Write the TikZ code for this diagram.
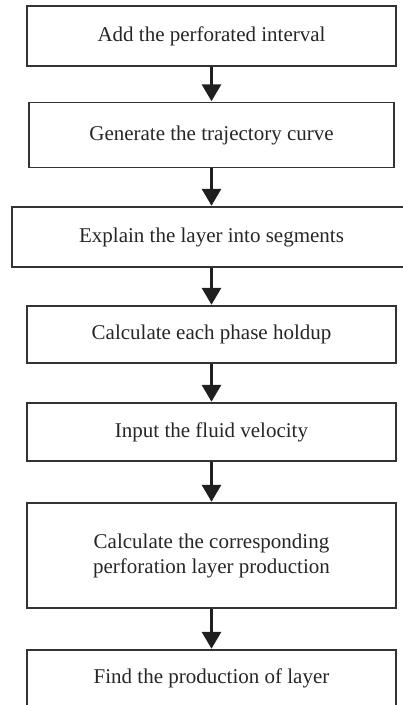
\documentclass[tikz,border=0pt]{standalone}
\usepackage{fontspec}
\setmainfont{Liberation Serif}
\usetikzlibrary{arrows.meta}

\tikzset{
  stepbox/.style={draw=black!80, line width=1.3pt, rectangle, inner sep=0pt,
    font=\fontsize{21}{25}\selectfont, align=center, text=black!85},
  flow/.style={draw=black!88, line width=3.2pt,
    -{Triangle[width=19pt,length=17pt]}, shorten >=0.6pt}
}

\begin{document}
\begin{tikzpicture}[x=1pt,y=-1pt]
  \useasboundingbox (0,0) rectangle (403,705);

  % process steps, top to bottom
  \node[stepbox, minimum width=369pt, minimum height=60pt] (s1) at (211.5,36) {Add the perforated interval};
  \node[stepbox, minimum width=365pt, minimum height=65pt] (s2) at (211.5,135) {Generate the trajectory curve};
  \node[stepbox, minimum width=399pt, minimum height=60pt] (s3) at (211.5,237) {Explain the layer into segments};
  \node[stepbox, minimum width=369pt, minimum height=57pt] (s4) at (211.5,334.5) {Calculate each phase holdup};
  \node[stepbox, minimum width=369pt, minimum height=58pt] (s5) at (211.5,432) {Input the fluid velocity};
  \node[stepbox, minimum width=369pt, minimum height=105pt] (s6) at (211.5,555.5) {Calculate the corresponding\\perforation layer production};
  \node[stepbox, minimum width=369pt, minimum height=57pt] (s7) at (211.5,678.5) {Find the production of layer};

  % connectors
  \draw[flow] (s1.south) -- (s2.north);
  \draw[flow] (s2.south) -- (s3.north);
  \draw[flow] (s3.south) -- (s4.north);
  \draw[flow] (s4.south) -- (s5.north);
  \draw[flow] (s5.south) -- (s6.north);
  \draw[flow] (s6.south) -- (s7.north);
\end{tikzpicture}
\end{document}
